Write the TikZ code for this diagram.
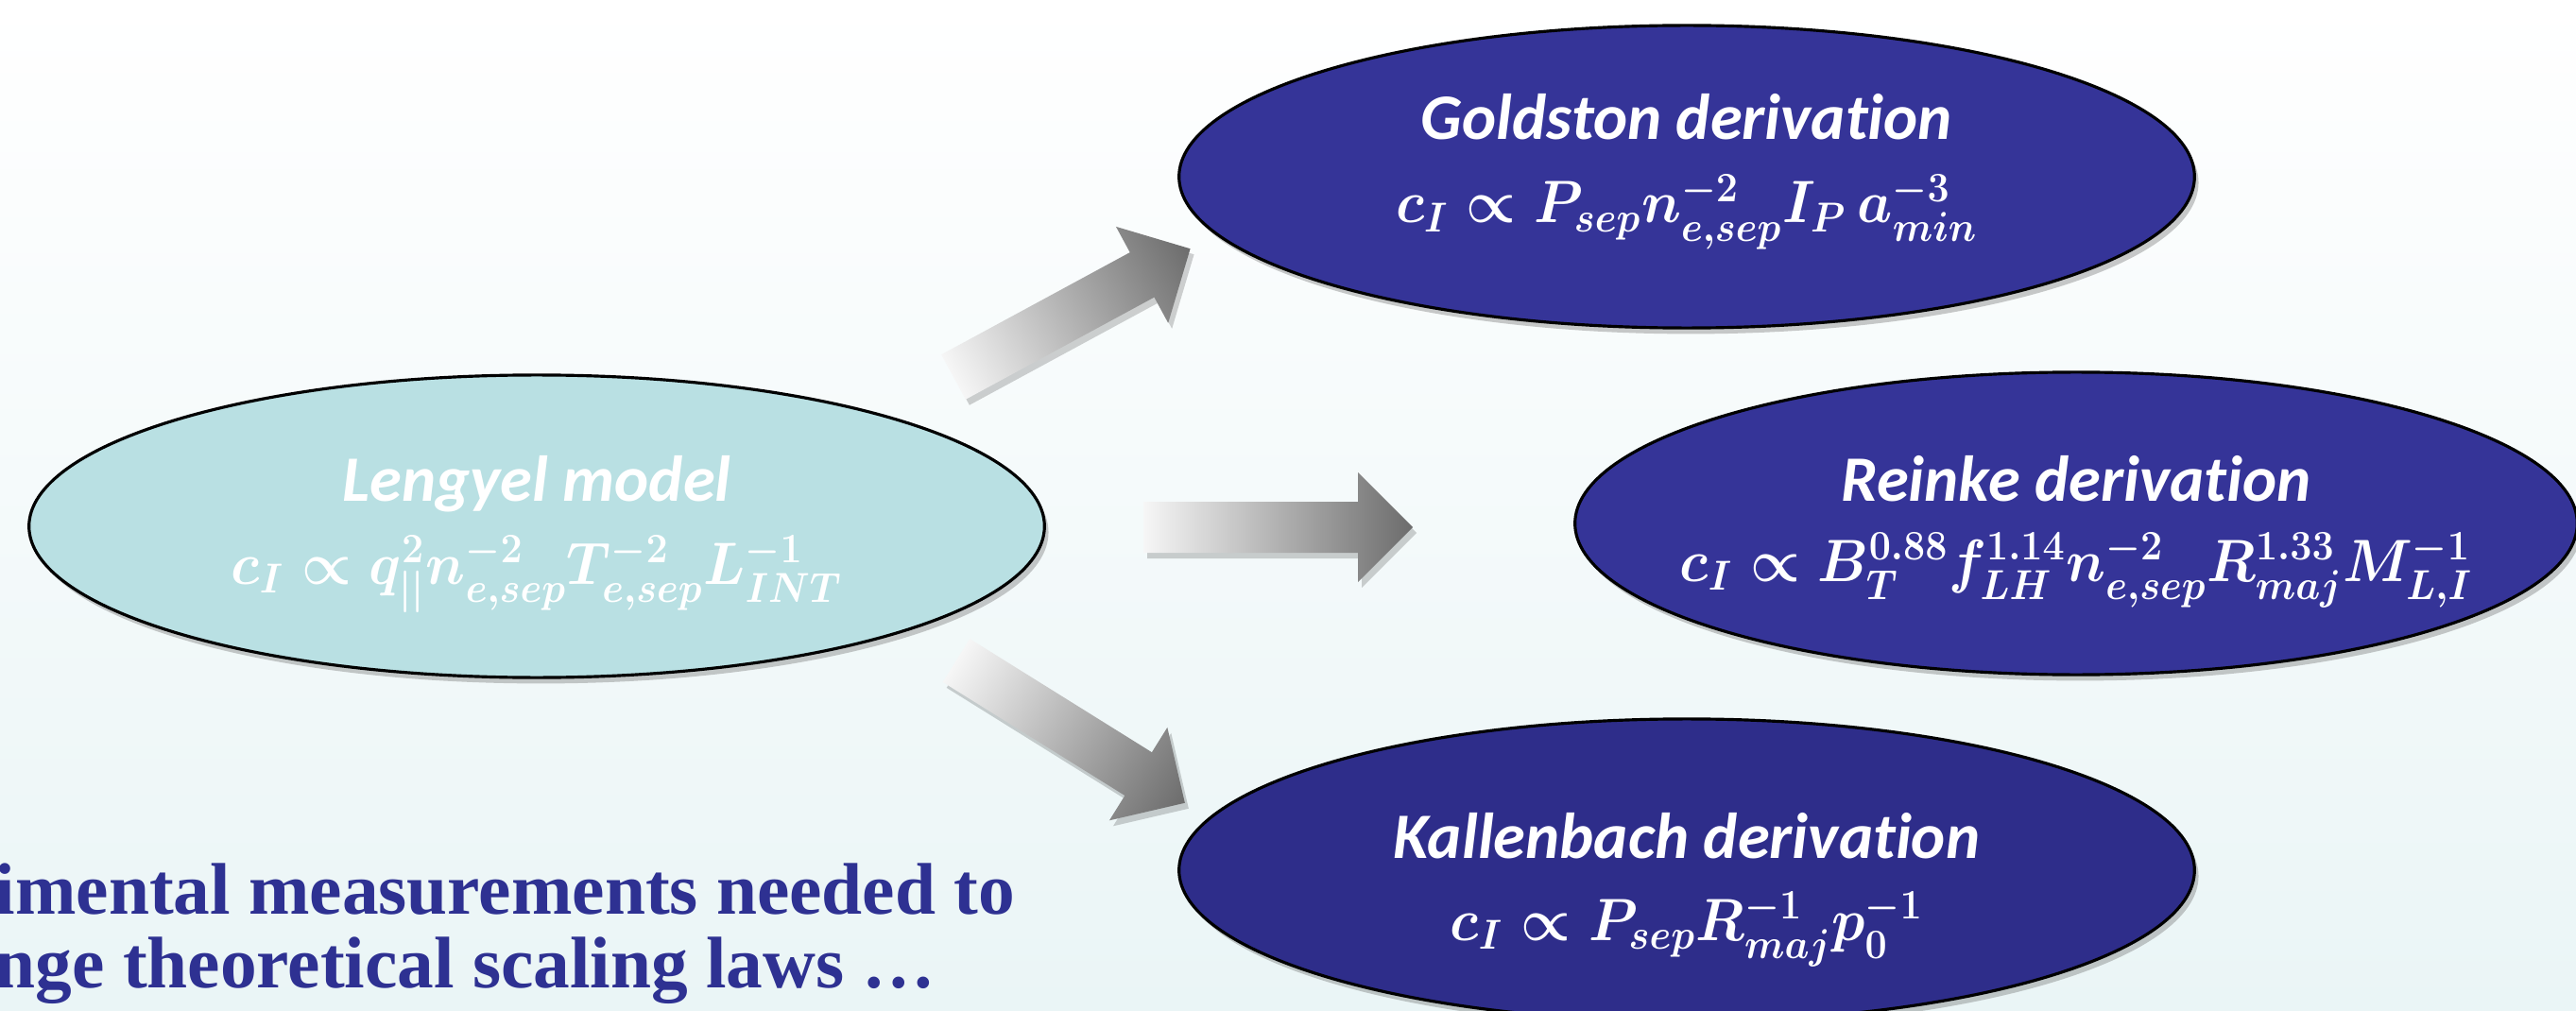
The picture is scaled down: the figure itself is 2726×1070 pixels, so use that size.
\RequirePackage{fix-cm}
\documentclass[tikz,border=0pt]{standalone}
\usepackage[no-math]{fontspec}
\usetikzlibrary{shapes.geometric,shadows,calc}
\newfontfamily\ttlfont[Ligatures=NoCommon]{Carlito}
\newfontfamily\botfont{Liberation Serif}
\definecolor{lightcyan}{RGB}{185,224,227}
\definecolor{navyA}{RGB}{53,52,152}
\definecolor{navyB}{RGB}{46,45,138}
\definecolor{bgbottom}{RGB}{234,245,246}
\definecolor{txtblue}{RGB}{46,49,146}
\definecolor{arrdark}{RGB}{108,108,108}
\definecolor{arrlight}{RGB}{246,246,246}
\newcommand{\fm}[1]{\scalebox{0.93}[1]{$#1$}}
\begin{document}
\begin{tikzpicture}[x=0.01cm,y=-0.01cm,
  bubble/.style={ellipse, draw=black, line width=0.9pt, inner sep=0pt,
    minimum width=10.74cm, minimum height=3.2cm,
    drop shadow={shadow xshift=1.2pt, shadow yshift=-1.8pt, opacity=0.35, fill=black!60}},
  ttl/.style={text=white, font=\ttlfont\bfseries\itshape\fontsize{19.5}{22}\selectfont, inner sep=0pt, anchor=base},
  fml/.style={text=white, font=\fontsize{18}{20}\selectfont\boldmath, inner sep=0pt, anchor=base},
  blockarrow/.style={left color=arrlight, right color=arrdark, draw=none},
  arrowshadow/.style={fill=black, opacity=0.18, draw=none}
]
% background
\useasboundingbox (0,0) rectangle (2726,1070);
\fill[top color=white, bottom color=bgbottom] (0,0) rectangle (2726,1070);

% ellipses
\node[bubble, fill=lightcyan] (lengyel) at (568,557) {};
\node[bubble, fill=navyA] (goldston) at (1785,187) {};
\node[bubble, fill=navyA, minimum width=10.6cm] (reinke) at (2197,554) {};
\node[bubble, fill=navyB] (kallenbach) at (1785,921) {};

% texts
\node[ttl] (lengyelT) at (568,530) {Lengyel model};
\node[fml] (lengyelF) at (568,618) {\fm{c_I \propto q_{||}^{2} n_{e,sep}^{-2} T_{e,sep}^{-2} L_{INT}^{-1}}};
\node[ttl] (goldstonT) at (1785,148) {Goldston derivation};
\node[fml] (goldstonF) at (1785,236) {\fm{c_I \propto P_{sep} n_{e,sep}^{-2} I_P\, a_{min}^{-3}}};
\node[ttl] (reinkeT) at (2197,531) {Reinke derivation};
\node[fml] (reinkeF) at (2197,615) {\fm{c_I \propto B_T^{0.88} f_{LH}^{1.14} n_{e,sep}^{-2} R_{maj}^{1.33} M_{L,I}^{-1}}};
\node[ttl] (kallenbachT) at (1785,908) {Kallenbach derivation};
\node[fml] (kallenbachF) at (1785,995) {\fm{c_I \propto P_{sep} R_{maj}^{-1} p_0^{-1}}};

% block arrows
\coordinate (a1) at (1009,399);
\coordinate (a2) at (1210,558);
\coordinate (a3) at (1012,699);
\def\arrowpath{(0,-27) -- (227,-27) -- (227,-58) -- (285,0) -- (227,58) -- (227,27) -- (0,27) -- cycle}
\begin{scope}[transform canvas={shift={($(a1)+(4,6)$)}, rotate=28.45}]
  \fill[arrowshadow] \arrowpath;
\end{scope}
\begin{scope}[transform canvas={shift={(a1)}, rotate=28.45}]
  \shade[blockarrow] \arrowpath;
\end{scope}
\begin{scope}[transform canvas={shift={($(a2)+(4,6)$)}}]
  \fill[arrowshadow] \arrowpath;
\end{scope}
\begin{scope}[transform canvas={shift={(a2)}}]
  \shade[blockarrow] \arrowpath;
\end{scope}
\begin{scope}[transform canvas={shift={($(a3)+(4,6)$)}, rotate=-31.94}]
  \fill[arrowshadow] \arrowpath;
\end{scope}
\begin{scope}[transform canvas={shift={(a3)}, rotate=-31.94}]
  \shade[blockarrow] \arrowpath;
\end{scope}

% bottom text
\node[anchor=base west, align=left, inner sep=0pt, text=txtblue,
  font=\botfont\bfseries\fontsize{22}{21.9}\selectfont] (note) at (-6,1045)
  {imental measurements needed to\\nge theoretical scaling laws \dots};
\end{tikzpicture}
\end{document}
